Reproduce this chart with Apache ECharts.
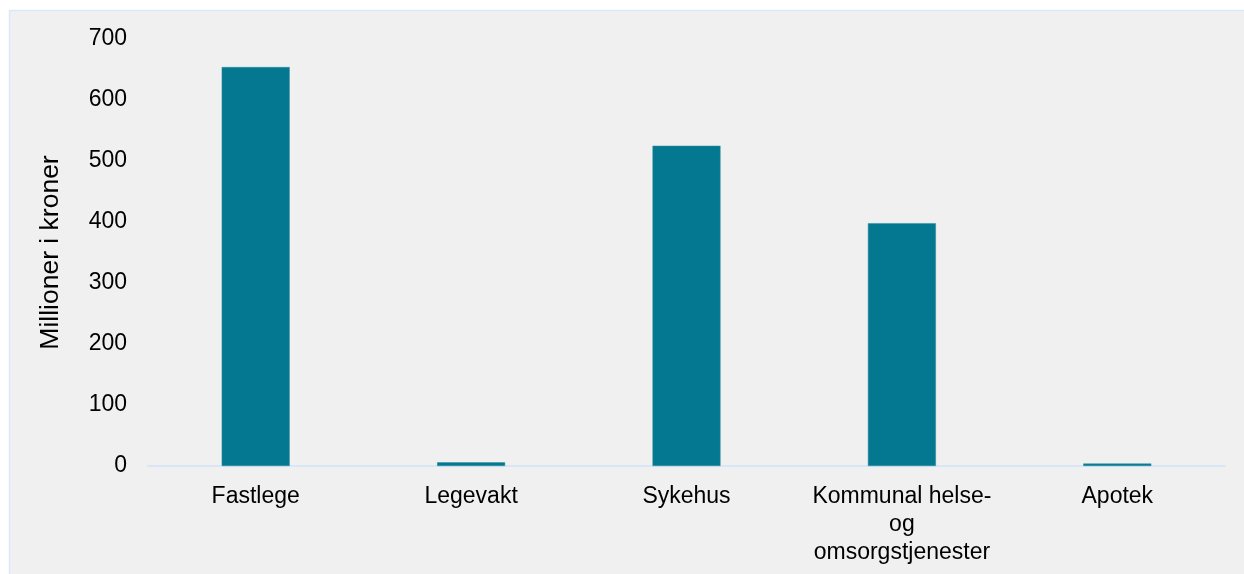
<!DOCTYPE html>
<html>
<head>
<meta charset="utf-8">
<script src="https://cdn.jsdelivr.net/npm/echarts@6/dist/echarts.min.js"></script>
<style>
  html, body { margin: 0; padding: 0; background: #ffffff; overflow: hidden; }
  #chart { width: 1244px; height: 574px; }
</style>
</head>
<body>
<div id="chart"></div>
<script>
// Kostnader fordelt på tjenestested (millioner kroner)
const categories = ['Fastlege', 'Legevakt', 'Sykehus', 'Kommunal helse-\nog\nomsorgstjenester', 'Apotek'];
const values = [654, 6, 525, 398, 4];
const yTicks = { min: 0, max: 700, interval: 100 };
const yAxisTitle = 'Millioner i kroner';

const font = '"Liberation Sans", Arial, sans-serif';
const chart = echarts.init(document.getElementById('chart'), null, { renderer: 'canvas' });

chart.setOption({
  backgroundColor: '#ffffff',
  animation: false,
  graphic: [{
    type: 'rect',
    z: -10,
    silent: true,
    shape: { x: 9.5, y: 10.5, width: 1250, height: 580 },
    style: { fill: '#f0f0f0', stroke: '#dbe8f8', lineWidth: 1.5 }
  }],
  grid: { left: 148, right: 19, top: 39, bottom: 108, containLabel: false },
  xAxis: {
    type: 'category',
    data: categories,
    axisLine: { show: true, lineStyle: { color: '#d8e6f7', width: 2 } },
    axisTick: { show: false },
    axisLabel: {
      color: '#000000',
      fontFamily: font,
      fontSize: 23,
      lineHeight: 28,
      margin: 17,
      interval: 0
    }
  },
  yAxis: {
    type: 'value',
    min: yTicks.min,
    max: yTicks.max,
    interval: yTicks.interval,
    name: yAxisTitle,
    nameLocation: 'middle',
    nameRotate: 90,
    nameGap: 84,
    nameTextStyle: { color: '#000000', fontFamily: font, fontSize: 26.5 },
    axisLine: { show: false },
    axisTick: { show: false },
    splitLine: { show: false },
    axisLabel: { color: '#000000', fontFamily: font, fontSize: 23, margin: 21 }
  },
  series: [{
    type: 'bar',
    data: values,
    barWidth: 68,
    itemStyle: { color: '#047891', borderColor: '#2a8ca2', borderWidth: 0.5 }
  }]
});
</script>
</body>
</html>
